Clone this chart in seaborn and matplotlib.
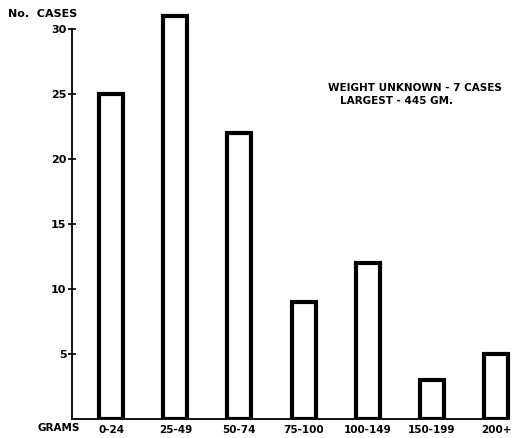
import numpy as np
import pandas as pd
import seaborn as sns
import matplotlib.pyplot as plt

grams = ['0-24', '25-49', '50-74', '75-100', '100-149', '150-199', '200+']
cases = [25, 31, 22, 9, 12, 3, 5]
y_ticks = [5, 10, 15, 20, 25, 30]

df = pd.DataFrame({'grams': grams, 'cases': cases})

sns.set_style('white')
plt.rcParams['font.family'] = ['DejaVu Sans']
plt.rcParams['font.weight'] = 'bold'
plt.rcParams['text.color'] = 'black'
plt.rcParams['xtick.color'] = 'black'
plt.rcParams['ytick.color'] = 'black'
plt.rcParams['axes.edgecolor'] = 'black'

fig = plt.figure(figsize=(5.14, 4.38), dpi=100)
ax = fig.add_axes([0.140, 0.0434, 0.86, 0.929])

sns.barplot(data=df, x='grams', y='cases', order=grams, ax=ax,
            color='white', edgecolor='black', linewidth=3, width=0.375)

ax.set_xlim(-0.61, 6.28)
ax.set_ylim(0, 31.3)
ax.set_yticks(y_ticks)
ax.set_yticklabels([str(t) for t in y_ticks], fontsize=8, fontweight='bold')
ax.set_xticks(range(len(grams)))
ax.set_xticklabels(grams, fontsize=7.5, fontweight='bold')
ax.tick_params(axis='y', left=True, direction='inout', length=6, width=1.2,
               pad=1, colors='black')
ax.tick_params(axis='x', bottom=False, length=0, pad=4, colors='black')
ax.set_xlabel('')
ax.set_ylabel('')

for s in ['top', 'right']:
    ax.spines[s].set_visible(False)
ax.spines['left'].set_bounds(0, 30)
ax.spines['left'].set_linewidth(1.3)
ax.spines['bottom'].set_linewidth(1.3)
ax.spines['bottom'].set_bounds(-0.61, 6.2)

fig.text(8 / 514, 1 - 14 / 438, 'No.  CASES', fontsize=8, fontweight='bold',
         va='center', ha='left')
fig.text(38 / 514, 1 - 428 / 438, 'GRAMS', fontsize=7.5, fontweight='bold',
         va='center', ha='left')
fig.text(328 / 514, 1 - 88 / 438, 'WEIGHT UNKNOWN - 7 CASES', fontsize=7.5,
         fontweight='bold', va='center', ha='left')
fig.text(340 / 514, 1 - 101 / 438, 'LARGEST - 445 GM.', fontsize=7.5,
         fontweight='bold', va='center', ha='left')

fig.savefig('out.png', dpi=100)
